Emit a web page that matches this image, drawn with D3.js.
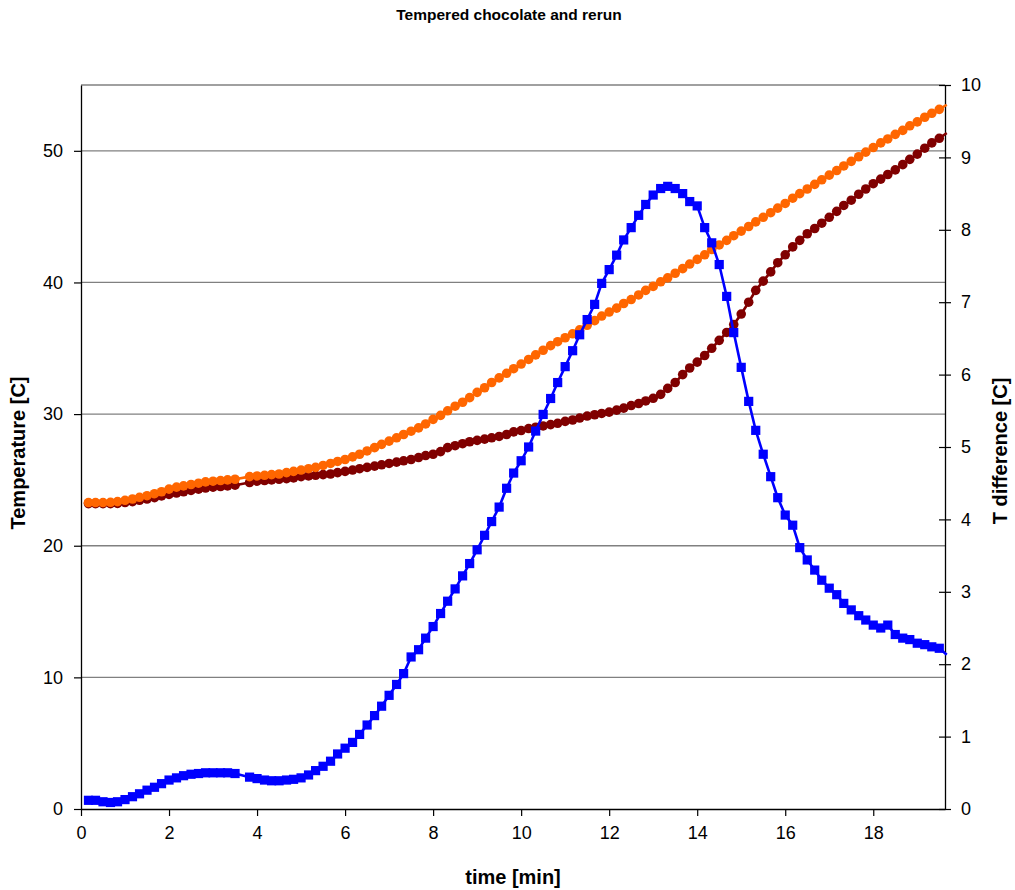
<!DOCTYPE html>
<html>
<head>
<meta charset="utf-8">
<script src="https://cdn.jsdelivr.net/npm/d3@7"></script>
<style>
  body { margin: 0; background: #fff; }
  svg { display: block; font-family: "Liberation Sans", Arial, sans-serif; }
</style>
</head>
<body>
<svg id="chart" width="1015" height="890"></svg>
<script>
// time [min], one sample every 10 s (one sample missing near 3.6 min)
const times = [
  0.17, 0.33, 0.50, 0.67, 0.83, 1.00, 1.17, 1.33, 1.50, 1.67, 1.83, 2.00, 2.17, 2.33, 2.50, 2.67, 2.83,
  3.00, 3.17, 3.33, 3.50, 3.83, 4.00, 4.17, 4.33, 4.50, 4.67, 4.83, 5.00, 5.17, 5.33, 5.50, 5.67, 5.83,
  6.00, 6.17, 6.33, 6.50, 6.67, 6.83, 7.00, 7.17, 7.33, 7.50, 7.67, 7.83, 8.00, 8.17, 8.33, 8.50, 8.67,
  8.83, 9.00, 9.17, 9.33, 9.50, 9.67, 9.83, 10.00, 10.17, 10.33, 10.50, 10.67, 10.83, 11.00, 11.17,
  11.33, 11.50, 11.67, 11.83, 12.00, 12.17, 12.33, 12.50, 12.67, 12.83, 13.00, 13.17, 13.33, 13.50,
  13.67, 13.83, 14.00, 14.17, 14.33, 14.50, 14.67, 14.83, 15.00, 15.17, 15.33, 15.50, 15.67, 15.83,
  16.00, 16.17, 16.33, 16.50, 16.67, 16.83, 17.00, 17.17, 17.33, 17.50, 17.67, 17.83, 18.00, 18.17,
  18.33, 18.50, 18.67, 18.83, 19.00, 19.17, 19.33, 19.50, 19.67
];

// rerun temperature [C] (dark red)
const rerun = [
  23.20, 23.20, 23.20, 23.20, 23.22, 23.28, 23.35, 23.45, 23.55, 23.65, 23.78, 23.90, 24.00, 24.10, 24.20, 24.30, 24.38,
  24.45, 24.50, 24.55, 24.60, 24.80, 24.90, 24.95, 25.00, 25.05, 25.10, 25.15, 25.25, 25.30, 25.35, 25.40, 25.45, 25.55,
  25.65, 25.75, 25.85, 25.95, 26.05, 26.15, 26.25, 26.35, 26.45, 26.55, 26.70, 26.85, 26.95, 27.15, 27.45, 27.60, 27.75,
  27.90, 28.00, 28.10, 28.20, 28.30, 28.45, 28.65, 28.75, 28.90, 29.00, 29.10, 29.20, 29.30, 29.45, 29.55,
  29.70, 29.85, 29.95, 30.05, 30.15, 30.30, 30.45, 30.65, 30.80, 31.00, 31.20, 31.50, 31.95, 32.40,
  33.00, 33.50, 33.95, 34.45, 35.00, 35.60, 36.20, 36.80, 37.60, 38.50, 39.40, 40.10, 40.80, 41.50,
  42.10, 42.70, 43.20, 43.70, 44.10, 44.50, 44.95, 45.40, 45.85, 46.25, 46.70, 47.10, 47.50, 47.85,
  48.20, 48.55, 48.95, 49.35, 49.75, 50.20, 50.60, 50.95, 51.35
];

// tempered chocolate temperature [C] (orange)
const tempered = [
  23.28, 23.28, 23.28, 23.30, 23.35, 23.45, 23.55, 23.68, 23.80, 23.95, 24.10, 24.30, 24.45, 24.55, 24.65, 24.75, 24.85,
  24.90, 24.95, 25.00, 25.05, 25.25, 25.30, 25.35, 25.40, 25.45, 25.55, 25.65, 25.75, 25.85, 25.95, 26.10, 26.25, 26.40,
  26.55, 26.75, 26.95, 27.20, 27.45, 27.70, 27.95, 28.20, 28.45, 28.70, 28.95, 29.25, 29.60, 29.90, 30.25, 30.60, 30.90,
  31.25, 31.65, 32.00, 32.40, 32.75, 33.10, 33.45, 33.80, 34.15, 34.50, 34.85, 35.20, 35.50, 35.80, 36.10,
  36.40, 36.75, 37.10, 37.45, 37.75, 38.05, 38.40, 38.70, 39.05, 39.40, 39.70, 40.05, 40.35, 40.70,
  41.05, 41.40, 41.75, 42.10, 42.50, 42.85, 43.20, 43.55, 43.90, 44.25, 44.60, 44.95, 45.30, 45.65,
  46.00, 46.40, 46.75, 47.10, 47.45, 47.80, 48.15, 48.50, 48.85, 49.20, 49.55, 49.90, 50.25, 50.60,
  50.90, 51.25, 51.55, 51.90, 52.20, 52.55, 52.85, 53.15, 53.50
];

// temperature difference [C] (blue, right axis)
const tDiff = [
  0.12, 0.12, 0.10, 0.09, 0.10, 0.13, 0.17, 0.21, 0.26, 0.30, 0.35, 0.40, 0.43, 0.46, 0.48, 0.49, 0.50,
  0.50, 0.50, 0.50, 0.49, 0.44, 0.42, 0.40, 0.39, 0.39, 0.40, 0.41, 0.43, 0.47, 0.53, 0.59, 0.66, 0.76,
  0.84, 0.92, 1.03, 1.16, 1.29, 1.42, 1.57, 1.72, 1.87, 2.10, 2.20, 2.36, 2.52, 2.70, 2.87, 3.04, 3.22,
  3.39, 3.58, 3.78, 3.97, 4.17, 4.43, 4.64, 4.81, 5.00, 5.22, 5.45, 5.67, 5.89, 6.11, 6.33,
  6.55, 6.76, 6.97, 7.26, 7.45, 7.65, 7.86, 8.03, 8.20, 8.35, 8.48, 8.57, 8.60, 8.57,
  8.50, 8.39, 8.33, 8.03, 7.82, 7.52, 7.08, 6.58, 6.10, 5.63, 5.23, 4.90, 4.59, 4.30,
  4.06, 3.92, 3.61, 3.44, 3.30, 3.16, 3.05, 2.96, 2.84, 2.75, 2.67, 2.61, 2.54, 2.50,
  2.54, 2.41, 2.36, 2.34, 2.29, 2.27, 2.24, 2.22, 2.13
];

const xTicks = [0, 2, 4, 6, 8, 10, 12, 14, 16, 18];
const leftTicks = [0, 10, 20, 30, 40, 50];
const rightTicks = [0, 1, 2, 3, 4, 5, 6, 7, 8, 9, 10];

const xMax = 19.63;
const margin = { top: 85, right: 70, bottom: 81, left: 81 };
const width = 1015, height = 890;
const innerW = width - margin.left - margin.right;
const innerH = height - margin.top - margin.bottom;

const svg = d3.select('#chart');
const g = svg.append('g').attr('transform', `translate(${margin.left},${margin.top})`);

const x = d3.scaleLinear().domain([0, xMax]).range([0, innerW]);
const yL = d3.scaleLinear().domain([0, 55]).range([innerH, 0]);
const yR = d3.scaleLinear().domain([0, 10]).range([innerH, 0]);

// horizontal grid lines and top border
g.append('g')
  .selectAll('line')
  .data(leftTicks.filter(d => d > 0))
  .enter().append('line')
  .attr('x1', 0).attr('x2', innerW)
  .attr('y1', d => yL(d)).attr('y2', d => yL(d))
  .attr('stroke', '#808080').attr('stroke-width', 1.3);

g.append('line')
  .attr('x1', 0).attr('x2', innerW)
  .attr('y1', 0).attr('y2', 0)
  .attr('stroke', '#808080').attr('stroke-width', 1.3);

// axes
const xAxis = g.append('g')
  .attr('transform', `translate(0,${innerH})`)
  .call(d3.axisBottom(x).tickValues(xTicks).tickSize(7).tickSizeOuter(0).tickPadding(10));

const leftAxis = g.append('g')
  .call(d3.axisLeft(yL).tickValues(leftTicks).tickSize(7).tickSizeOuter(0).tickPadding(11));

const rightAxis = g.append('g')
  .attr('transform', `translate(${innerW},0)`)
  .call(d3.axisRight(yR).tickValues(rightTicks).tickSize(6).tickSizeOuter(0).tickPadding(10));
rightAxis.selectAll('.tick line').attr('x1', -6);

[xAxis, leftAxis, rightAxis].forEach(a => {
  a.select('.domain').attr('stroke', '#000').attr('stroke-width', 1.3);
  a.selectAll('.tick line').attr('stroke', '#000').attr('stroke-width', 1.2);
  a.selectAll('.tick text')
    .attr('fill', '#000')
    .style('font-size', '18px')
    .style('font-family', '"Liberation Sans", Arial, sans-serif');
});

// series
const series = [
  { values: rerun, color: '#800000', scale: yL, shape: 'circle' },
  { values: tempered, color: '#FF6600', scale: yL, shape: 'circle' },
  { values: tDiff, color: '#0000FF', scale: yR, shape: 'square' }
];

series.forEach(s => {
  const pts = times.map((t, i) => ({ t: t, v: s.values[i] }));
  const line = d3.line().x(d => x(d.t)).y(d => s.scale(d.v));

  g.append('path')
    .datum(pts)
    .attr('d', line)
    .attr('fill', 'none')
    .attr('stroke', s.color)
    .attr('stroke-width', 2.6);

  const visible = pts.filter(d => d.t <= xMax);
  if (s.shape === 'circle') {
    g.append('g').selectAll('circle')
      .data(visible)
      .enter().append('circle')
      .attr('cx', d => x(d.t))
      .attr('cy', d => s.scale(d.v))
      .attr('r', 4.8)
      .attr('fill', s.color);
  } else {
    g.append('g').selectAll('rect')
      .data(visible)
      .enter().append('rect')
      .attr('x', d => x(d.t) - 4.6)
      .attr('y', d => s.scale(d.v) - 4.6)
      .attr('width', 9.2)
      .attr('height', 9.2)
      .attr('fill', s.color);
  }
});

// titles
svg.append('text')
  .attr('x', 509).attr('y', 20)
  .attr('text-anchor', 'middle')
  .style('font-size', '15.5px').style('font-weight', 'bold')
  .text('Tempered chocolate and rerun');

svg.append('text')
  .attr('x', margin.left + innerW / 2).attr('y', 884)
  .attr('text-anchor', 'middle')
  .style('font-size', '20px').style('font-weight', 'bold')
  .text('time [min]');

svg.append('text')
  .attr('transform', `translate(25,${margin.top + innerH / 2 + 6}) rotate(-90)`)
  .attr('text-anchor', 'middle')
  .style('font-size', '20px').style('font-weight', 'bold')
  .text('Temperature [C]');

svg.append('text')
  .attr('transform', `translate(1007,${margin.top + innerH / 2 + 4}) rotate(-90)`)
  .attr('text-anchor', 'middle')
  .style('font-size', '20px').style('font-weight', 'bold')
  .text('T difference [C]');
</script>
</body>
</html>
